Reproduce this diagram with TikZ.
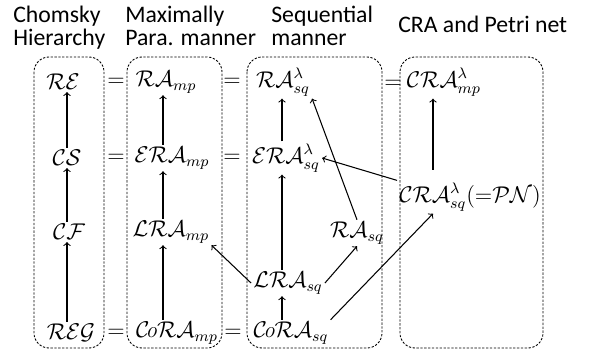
\documentclass[tikz,border=0pt]{standalone}
\usepackage{fontspec}
\newfontfamily\headfont{Carlito}
\tikzset{
  lang/.style={font=\large, scale=1.08, inner sep=1pt},
  head/.style={font=\headfont\fontsize{13.5}{13.1}\selectfont, align=left, inner sep=0pt},
  column/.style={draw, line width=0.5pt, dash pattern=on 1.3pt off 0.9pt, rounded corners=0.3cm},
  incl/.style={->, line width=0.6pt},
}
\begin{document}
\begin{tikzpicture}[x=0.02cm, y=-0.02cm]
\useasboundingbox (0,0) rectangle (589,353);

% headers
\node[head, anchor=north west] (hChomsky) at (13,6) {Chomsky\\Hierarchy};
\node[head, anchor=north west] (hMax) at (125,6) {Maximally\\Para. manner};
\node[head, anchor=north west] (hSeq) at (271,6) {Sequential\\manner};
\node[head, anchor=base west] (hCRA) at (398,32) {CRA and Petri net};

% columns
\draw[column] (34,57) rectangle (104,348);
\draw[column] (127,57) rectangle (222,348);
\draw[column] (247,57) rectangle (382,348);
\draw[column] (400,57) rectangle (543,348);

\coordinate (c1) at (67,0);
\coordinate (c2) at (163,0);
\coordinate (c3) at (282,0);
\coordinate (c4) at (433,0);

% classes
\node[lang] (RE) at (63,82) {$\mathcal{RE}$};
\node[lang] (CS) at (67,158) {$\mathcal{CS}$};
\node[lang] (CF) at (69,232) {$\mathcal{CF}$};
\node[lang] (REG) at (71,333) {$\mathcal{REG}$};

\node[lang] (RAmp) at (166,82) {$\mathcal{RA}_{mp}$};
\node[lang] (ERAmp) at (172,158) {$\mathcal{ERA}_{mp}$};
\node[lang] (LRAmp) at (171,232) {$\mathcal{LRA}_{mp}$};
\node[lang] (CoRAmp) at (177,333) {$\mathcal{C}\!\mathit{o}\mathcal{RA}_{mp}$};

\node[lang] (RAsqL) at (283,82) {$\mathcal{RA}^{\lambda}_{sq}$};
\node[lang] (ERAsq) at (286,158) {$\mathcal{ERA}^{\lambda}_{sq}$};
\node[lang] (RAsq) at (357,233) {$\mathcal{RA}_{sq}$};
\node[lang] (LRAsq) at (288,283) {$\mathcal{LRA}_{sq}$};
\node[lang] (CoRAsq) at (291,333) {$\mathcal{C}\!\mathit{o}\mathcal{RA}_{sq}$};

\node[lang] (CRAmp) at (444,82) {$\mathcal{CRA}^{\lambda}_{mp}$};
\node[lang] (PN) at (470,197) {$\mathcal{CRA}^{\lambda}_{sq}({=}\mathcal{PN})$};

% equalities
\node[lang] (eq1) at (116,82) {$=$};
\node[lang] (eq2) at (232,82) {$=$};
\node[lang] (eq3) at (393,84) {$=$};
\node[lang] (eq4) at (116,158) {$=$};
\node[lang] (eq5) at (232,158) {$=$};
\node[lang] (eq6) at (116,333) {$=$};
\node[lang] (eq7) at (233,333) {$=$};

% inclusions
\draw[incl] (REG.north -| c1) -- (CF.south -| c1);
\draw[incl] (CF.north -| c1) -- (CS.south -| c1);
\draw[incl] (CS.north -| c1) -- (RE.south -| c1);

\draw[incl] (CoRAmp.north -| c2) -- (LRAmp.south -| c2);
\draw[incl] (LRAmp.north -| c2) -- (ERAmp.south -| c2);
\draw[incl] (ERAmp.north -| c2) -- (RAmp.south -| c2);

\draw[incl] (CoRAsq.north -| c3) -- (LRAsq.south -| c3);
\draw[incl] (LRAsq.north -| c3) -- (ERAsq.south -| c3);
\draw[incl] (ERAsq.north -| c3) -- (RAsqL.south -| c3);

\draw[incl, shorten <=6pt] (PN.north -| c4) -- (CRAmp.south -| c4);

\draw[incl] (LRAsq.west) -- (LRAmp.south east);
\draw[incl] (LRAsq.east) -- (RAsq.south);
\draw[incl] (CoRAsq.north east) -- (PN.south -| c4);
\draw[incl] (RAsq.north) -- (RAsqL.south east);
\draw[incl] (PN.north west) -- (ERAsq.east);
\end{tikzpicture}
\end{document}
